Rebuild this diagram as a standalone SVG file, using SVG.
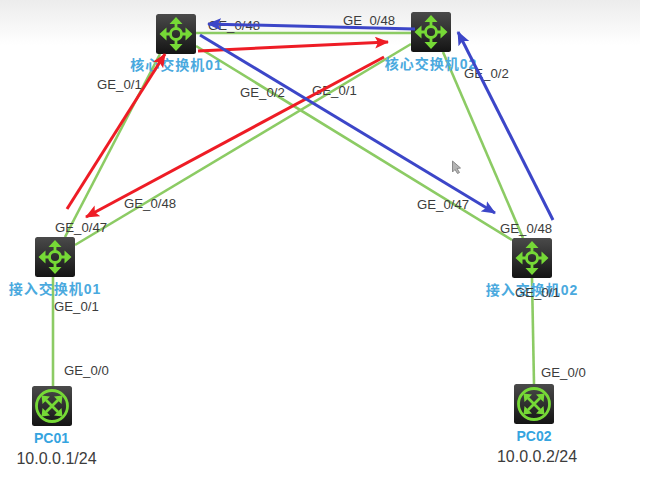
<svg xmlns="http://www.w3.org/2000/svg" xmlns:xlink="http://www.w3.org/1999/xlink" width="652" height="489" viewBox="0 0 652 489">
<style>
.link{stroke:#8ccb64;stroke-width:2.6;fill:none}
.red{stroke:#ee1c25;stroke-width:3;fill:none}
.blue{stroke:#3c46c8;stroke-width:3;fill:none}
.port{font:13.2px "Liberation Sans",Arial,sans-serif;fill:#3c3c3c}
.name{font:bold 14px "Liberation Sans","Noto Sans CJK SC",sans-serif;fill:#4aa9de;letter-spacing:1px}
.pcn{font:bold 14px "Liberation Sans",Arial,sans-serif;fill:#35a4df}
.ip{font:16px "Liberation Sans",Arial,sans-serif;fill:#3c3c3c}
.box{fill:url(#boxg)}
.glyph{stroke:#76d936;stroke-width:2.8;fill:none}
.gf{fill:#76d936}
</style>
<defs>
<linearGradient id="bg" x1="0" y1="0" x2="0" y2="1"><stop offset="0" stop-color="#ececec"/><stop offset="1" stop-color="#ffffff"/></linearGradient>
<linearGradient id="boxg" x1="0" y1="0" x2="0" y2="1"><stop offset="0" stop-color="#4a4a4a"/><stop offset="1" stop-color="#141414"/></linearGradient>
<marker id="ar" markerUnits="userSpaceOnUse" markerWidth="15" markerHeight="13" refX="13" refY="6" orient="auto"><path d="M0 0L14 6L0 12L3 6Z" fill="#ee1c25"/></marker>
<marker id="ab" markerUnits="userSpaceOnUse" markerWidth="15" markerHeight="13" refX="13" refY="6" orient="auto"><path d="M0 0L14 6L0 12L3 6Z" fill="#3c46c8"/></marker>
<g id="router">
<rect class="box" width="40" height="40" rx="2.500"/>
<circle class="glyph" cx="20" cy="20" r="5.500"/>
<path class="glyph" d="M20 14.500V7M20 25.500V33M14.500 20H7M25.500 20H33"/>
<path class="gf" d="M20 3L26.500 10H13.500ZM20 37L26.500 30H13.500ZM3.500 20L10.500 13.500V26.500ZM36.500 20L29.500 13.500V26.500Z"/>
</g>
<g id="pc">
<rect class="box" width="40" height="40" rx="2.500"/>
<circle class="glyph" cx="20" cy="20" r="15.500"/>
<path class="glyph" d="M14 14L26 26M26 14L14 26"/>
<path class="gf" d="M9.500 9.500L18 10.500L10.500 18ZM30.500 9.500L22 10.500L29.500 18ZM9.500 30.500L18 29.500L10.500 22ZM30.500 30.500L22 29.500L29.500 22Z"/>
</g>
</defs>
<rect width="652" height="489" fill="#fff"/>
<rect width="640" height="45" fill="url(#bg)"/>
<g id="connectors">
<path class="link" d="M196 33H411"/>
<path class="link" d="M196 46L512 240"/>
<path class="link" d="M75 245L411 44"/>
<path class="link" d="M65 237L160 54"/>
<path class="link" d="M443 52L523 238"/>
<path class="link" d="M53 277V386"/>
<path class="link" d="M532 278L534 384"/>
</g>
<g id="core01"><use xlink:href="#router" x="156" y="14"/><text class="name" x="176.500" y="70" text-anchor="middle">核心交换机01</text></g>
<g id="core02"><use xlink:href="#router" x="411" y="12"/><text class="name" x="431" y="69" text-anchor="middle">核心交换机02</text></g>
<g id="access01"><use xlink:href="#router" x="35" y="237"/><text class="name" x="55" y="294" text-anchor="middle">接入交换机01</text></g>
<g id="access02"><use xlink:href="#router" x="512" y="238"/><text class="name" x="532" y="295" text-anchor="middle">接入交换机02</text></g>
<g id="pc01"><use xlink:href="#pc" x="32" y="386"/><text class="pcn" x="51.500" y="443" text-anchor="middle">PC01</text><text class="ip" x="56.500" y="464" text-anchor="middle">10.0.0.1/24</text></g>
<g id="pc02"><use xlink:href="#pc" x="514" y="384"/><text class="pcn" x="534" y="441" text-anchor="middle">PC02</text><text class="ip" x="537" y="462" text-anchor="middle">10.0.0.2/24</text></g>
<g id="ports">
<text class="port" x="208" y="30">GE_0/48</text>
<text class="port" x="343" y="25">GE_0/48</text>
<text class="port" x="97" y="89">GE_0/1</text>
<text class="port" x="240" y="97">GE_0/2</text>
<text class="port" x="312" y="95">GE_0/1</text>
<text class="port" x="464" y="78">GE_0/2</text>
<text class="port" x="124" y="208">GE_0/48</text>
<text class="port" x="417" y="209">GE_0/47</text>
<text class="port" x="55" y="232">GE_0/47</text>
<text class="port" x="500" y="233">GE_0/48</text>
<text class="port" x="54" y="311">GE_0/1</text>
<text class="port" x="515" y="297">GE_0/1</text>
<text class="port" x="64" y="375">GE_0/0</text>
<text class="port" x="541" y="377">GE_0/0</text>
</g>
<g id="traffic-arrows">
<path class="red" marker-end="url(#ar)" d="M67 209L165 54"/>
<path class="red" marker-end="url(#ar)" d="M198 51L388 42"/>
<path class="red" marker-end="url(#ar)" d="M384 57L86 217"/>
<path class="blue" marker-end="url(#ab)" d="M415 29L208 24"/>
<path class="blue" marker-end="url(#ab)" d="M200 35L495 213"/>
<path class="blue" marker-end="url(#ab)" d="M553 220L458 32"/>
</g>
<path id="cursor" d="M452.500 161V172L455 169.500L457.500 173.500L459.500 172.500L457 168.500L460.500 168Z" fill="#b4b4b4" stroke="#8a8a8a" stroke-width="1"/>
</svg>
